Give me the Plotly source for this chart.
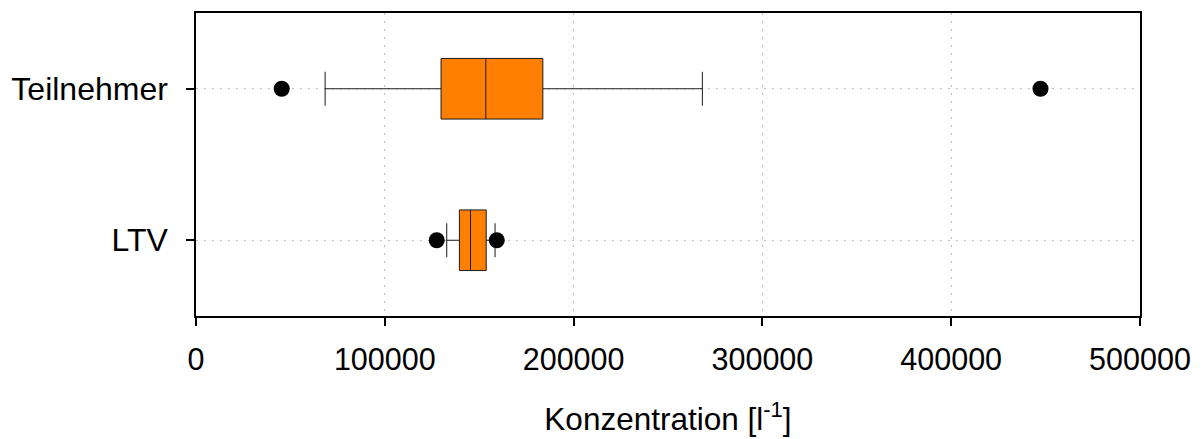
import plotly.graph_objects as go

categories = ["Teilnehmer", "LTV"]
q1 = [129800, 139500]
median = [153500, 145400]
q3 = [183700, 153700]
lower_fence = [68400, 132800]
upper_fence = [268200, 158400]
outlier_x = [45400, 447300, 127500, 159300]
outlier_cat = ["Teilnehmer", "Teilnehmer", "LTV", "LTV"]
x_ticks = [0, 100000, 200000, 300000, 400000, 500000]

FONT = "Liberation Sans, Arial, sans-serif"

fig = go.Figure()
for i, cat in enumerate(categories):
    fig.add_trace(go.Box(
        y=[cat], q1=[q1[i]], median=[median[i]], q3=[q3[i]],
        lowerfence=[lower_fence[i]], upperfence=[upper_fence[i]],
        orientation="h", width=0.4, whiskerwidth=0.56,
        fillcolor="#FF8000", line=dict(color="#1a1a1a", width=1),
        boxpoints=False, showlegend=False, hoverinfo="skip",
    ))
fig.add_trace(go.Scatter(
    x=outlier_x, y=outlier_cat, mode="markers",
    marker=dict(color="black", size=16), showlegend=False,
))

fig.update_layout(
    width=1196, height=431,
    margin=dict(l=188, r=64, t=5, b=123),
    plot_bgcolor="white", paper_bgcolor="white",
    font=dict(family=FONT, size=30, color="black"),
    xaxis=dict(
        range=[0, 500000], tickvals=x_ticks, ticktext=[str(v) for v in x_ticks],
        showline=True, mirror=True, linecolor="black", linewidth=1.5,
        ticks="outside", ticklen=8, tickwidth=1.5, tickcolor="black",
        showgrid=True, gridcolor="#bdbdbd", griddash="2px,6px", gridwidth=1,
        zeroline=False, ticklabelstandoff=8, automargin=False,
        title=dict(text="Konzentration [l<sup>-1</sup>]", standoff=33,
                   font=dict(size=31.5)),
        tickfont=dict(size=30.5),
    ),
    yaxis=dict(
        type="category", categoryorder="array", categoryarray=["LTV", "Teilnehmer"],
        range=[-0.5, 1.5],
        showline=True, mirror=True, linecolor="black", linewidth=1.5,
        ticks="outside", ticklen=8, tickwidth=1.5, tickcolor="black",
        showgrid=True, gridcolor="#bdbdbd", griddash="2px,6px", gridwidth=1,
        zeroline=False, tickfont=dict(size=32), ticklabelstandoff=12,
        automargin=False,
    ),
)

fig.write_html("out.html")
